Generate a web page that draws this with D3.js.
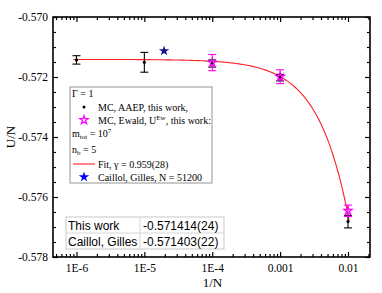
<!DOCTYPE html>
<html>
<head>
<meta charset="utf-8">
<script src="https://cdn.jsdelivr.net/npm/d3@7"></script>
<style>
  body { margin: 0; background: #fff; }
  text { font-family: "Liberation Serif", "Times New Roman", serif; }
</style>
</head>
<body>
<div id="graph"></div>
<script>
// data
var xTicks = [1e-6, 1e-5, 1e-4, 1e-3, 1e-2];
var xTickLabels = ["1E-6", "1E-5", "1E-4", "0.001", "0.01"];
var yTicks = [-0.570, -0.572, -0.574, -0.576, -0.578];
var yTickLabels = ["-0.570", "-0.572", "-0.574", "-0.576", "-0.578"];

var aaepX = [1e-6, 1e-5, 1e-4, 1e-3, 1e-2];
var aaepU = [-0.57143, -0.57151, -0.57155, -0.57202, -0.57682];
var aaepErr = [0.00014, 0.00033, 0.00012, 0.00011, 0.00021];

var ewaldX = [1e-4, 1e-3, 1e-2];
var ewaldU = [-0.57152, -0.57199, -0.57646];
var ewaldErr = [0.00027, 0.00023, 0.00019];

var caillolX = [1 / 51200];
var caillolU = [-0.57113];

// fit U = a - c * x^gamma
var fitA = -0.571414, fitC = 0.4293, fitGamma = 0.959;
var fitRange = [9e-7, 0.0104];

var tableRows = [["This work", "-0.571414(24)"], ["Caillol, Gilles", "-0.571403(22)"]];

var W = 382, H = 293;
var pL = 53, pR = 370, pT = 17, pB = 257;

var svg = d3.select("#graph").append("svg")
    .attr("width", W).attr("height", H);

var x = d3.scaleLog().domain([4.51e-7, 0.02109]).range([pL, pR]);
var y = d3.scaleLinear().domain([-0.578, -0.570]).range([pB, pT]);

// minor ticks
var xMinor = [];
for (var e = -7; e <= -2; e++) {
    for (var m = 2; m <= 9; m++) {
        var v = m * Math.pow(10, e);
        if (v > x.domain()[0] && v < x.domain()[1]) xMinor.push(v);
    }
}
var yMinor = d3.range(0, 17).map(function(i) { return -0.578 + i * 0.0005; })
    .filter(function(v) { return Math.abs((v / 0.002) - Math.round(v / 0.002)) > 1e-6; });

function axisGroup(axis, tr) {
    var g = svg.append("g").attr("transform", tr).call(axis);
    g.select(".domain").remove();
    g.selectAll("line").attr("stroke", "#000").attr("stroke-width", 1.2);
    return g;
}

var gx = axisGroup(d3.axisBottom(x).tickValues(xTicks).tickSize(-5).tickPadding(7)
    .tickFormat(function(d, i) { return xTickLabels[i]; }), "translate(0," + pB + ")");
gx.selectAll("text").attr("font-size", 11.5).attr("font-family", "Liberation Serif").attr("fill", "#000");
axisGroup(d3.axisBottom(x).tickValues(xMinor).tickSize(-3).tickFormat(""), "translate(0," + pB + ")");
axisGroup(d3.axisTop(x).tickValues(xTicks).tickSize(-5).tickFormat(""), "translate(0," + pT + ")");
axisGroup(d3.axisTop(x).tickValues(xMinor).tickSize(-3).tickFormat(""), "translate(0," + pT + ")");

var gy = axisGroup(d3.axisLeft(y).tickValues(yTicks).tickSize(-5).tickPadding(5)
    .tickFormat(function(d, i) { return yTickLabels[i]; }), "translate(" + pL + ",0)");
gy.selectAll("text").attr("font-size", 11.5).attr("font-family", "Liberation Serif").attr("fill", "#000");
axisGroup(d3.axisLeft(y).tickValues(yMinor).tickSize(-3).tickFormat(""), "translate(" + pL + ",0)");
axisGroup(d3.axisRight(y).tickValues(yTicks).tickSize(-5).tickFormat(""), "translate(" + pR + ",0)");
axisGroup(d3.axisRight(y).tickValues(yMinor).tickSize(-3).tickFormat(""), "translate(" + pR + ",0)");

svg.append("rect")
    .attr("x", pL).attr("y", pT)
    .attr("width", pR - pL).attr("height", pB - pT)
    .attr("fill", "none").attr("stroke", "#000").attr("stroke-width", 1.6);

// axis titles
svg.append("text").attr("x", (pL + pR) / 2 + 1).attr("y", 287)
    .attr("text-anchor", "middle").attr("font-size", 13).text("1/N");
svg.append("text").attr("transform", "translate(15,137) rotate(-90)")
    .attr("text-anchor", "middle").attr("font-size", 13).text("U/N");

// table
var tb = svg.append("g");
tb.append("rect").attr("x", 66).attr("y", 217).attr("width", 158).attr("height", 32)
    .attr("fill", "#fff").attr("stroke", "#bbb").attr("stroke-width", 0.8);
tb.append("line").attr("x1", 66).attr("x2", 224).attr("y1", 233).attr("y2", 233)
    .attr("stroke", "#ccc").attr("stroke-width", 0.8);
tb.append("line").attr("x1", 140).attr("x2", 140).attr("y1", 217).attr("y2", 249)
    .attr("stroke", "#ccc").attr("stroke-width", 0.8);
tableRows.forEach(function(r, i) {
    var by = 229.5 + i * 16;
    tb.append("text").attr("x", 68).attr("y", by).attr("font-size", 12)
        .style("font-family", "'Liberation Sans', Arial, sans-serif").text(r[0]);
    tb.append("text").attr("x", 143).attr("y", by).attr("font-size", 12)
        .style("font-family", "'Liberation Sans', Arial, sans-serif").text(r[1]);
});

// fit curve
var fitPts = d3.range(0, 201).map(function(i) {
    var lx = Math.log10(fitRange[0]) + i / 200 * (Math.log10(fitRange[1]) - Math.log10(fitRange[0]));
    var xv = Math.pow(10, lx);
    return [xv, fitA - fitC * Math.pow(xv, fitGamma)];
});
svg.append("path").datum(fitPts)
    .attr("d", d3.line().x(function(d) { return x(d[0]); }).y(function(d) { return y(d[1]); }))
    .attr("fill", "none").attr("stroke", "#ff2020").attr("stroke-width", 1.1);

function errorBars(xs, us, errs, color, w) {
    var g = svg.append("g").attr("stroke", color).attr("stroke-width", w);
    xs.forEach(function(xv, i) {
        var cx = x(xv), y1 = y(us[i] + errs[i]), y2 = y(us[i] - errs[i]);
        g.append("line").attr("x1", cx).attr("x2", cx).attr("y1", y1).attr("y2", y2);
        g.append("line").attr("x1", cx - 4).attr("x2", cx + 4).attr("y1", y1).attr("y2", y1);
        g.append("line").attr("x1", cx - 4).attr("x2", cx + 4).attr("y1", y2).attr("y2", y2);
    });
}

errorBars(aaepX, aaepU, aaepErr, "#000", 1.1);
errorBars(ewaldX, ewaldU, ewaldErr, "#ff00ff", 1.1);

var star = d3.symbol().type(d3.symbolStar);

svg.selectAll(".aaep").data(aaepX).enter().append("circle")
    .attr("cx", function(d) { return x(d); })
    .attr("cy", function(d, i) { return y(aaepU[i]); })
    .attr("r", 1.6).attr("fill", "#000");

svg.selectAll(".ewald").data(ewaldX).enter().append("path")
    .attr("d", star.size(22))
    .attr("transform", function(d, i) { return "translate(" + x(d) + "," + y(ewaldU[i]) + ")"; })
    .attr("fill", "none").attr("stroke", "#ff00ff").attr("stroke-width", 1.2);

svg.selectAll(".caillol").data(caillolX).enter().append("path")
    .attr("d", star.size(34))
    .attr("transform", function(d, i) { return "translate(" + x(d) + "," + y(caillolU[i]) + ")"; })
    .attr("fill", "#101090");

// legend
var lg = svg.append("g");
lg.append("rect").attr("x", 70).attr("y", 87).attr("width", 142).attr("height", 96)
    .attr("fill", "#fff").attr("stroke", "#888").attr("stroke-width", 0.9);
var lx0 = 72, sx = 84, tx = 98;
lg.append("text").attr("x", lx0).attr("y", 96.5).attr("font-size", 10).text("\u0393 = 1");
lg.append("circle").attr("cx", sx).attr("cy", 107).attr("r", 1.5).attr("fill", "#000");
lg.append("text").attr("x", tx).attr("y", 110.5).attr("font-size", 10).text("MC, AAEP, this work,");
lg.append("path").attr("d", star.size(22)).attr("transform", "translate(" + sx + ",120)")
    .attr("fill", "none").attr("stroke", "#ff00ff").attr("stroke-width", 1.2);
var t3 = lg.append("text").attr("x", tx).attr("y", 123.5).attr("font-size", 10);
t3.append("tspan").text("MC, Ewald, U");
t3.append("tspan").attr("dy", -4).attr("font-size", 7).text("Ew");
t3.append("tspan").attr("dy", 4).text(", this work:");
var t4 = lg.append("text").attr("x", lx0).attr("y", 136.5).attr("font-size", 10);
t4.append("tspan").text("m");
t4.append("tspan").attr("dy", 2.5).attr("font-size", 7).text("tot");
t4.append("tspan").attr("dy", -2.5).text(" = 10");
t4.append("tspan").attr("dy", -4).attr("font-size", 7).text("7");
var t5 = lg.append("text").attr("x", lx0).attr("y", 152.5).attr("font-size", 10);
t5.append("tspan").text("n");
t5.append("tspan").attr("dy", 2.5).attr("font-size", 7).text("b");
t5.append("tspan").attr("dy", -2.5).text(" = 5");
lg.append("line").attr("x1", 73).attr("x2", 95).attr("y1", 164).attr("y2", 164)
    .attr("stroke", "#ff2020").attr("stroke-width", 1.1);
lg.append("text").attr("x", tx).attr("y", 167.5).attr("font-size", 10).text("Fit, \u03b3 = 0.959(28)");
lg.append("path").attr("d", star.size(34)).attr("transform", "translate(" + sx + ",177)")
    .attr("fill", "#0000ff");
lg.append("text").attr("x", tx).attr("y", 180.5).attr("font-size", 10).text("Caillol, Gilles, N = 51200");
</script>
</body>
</html>
